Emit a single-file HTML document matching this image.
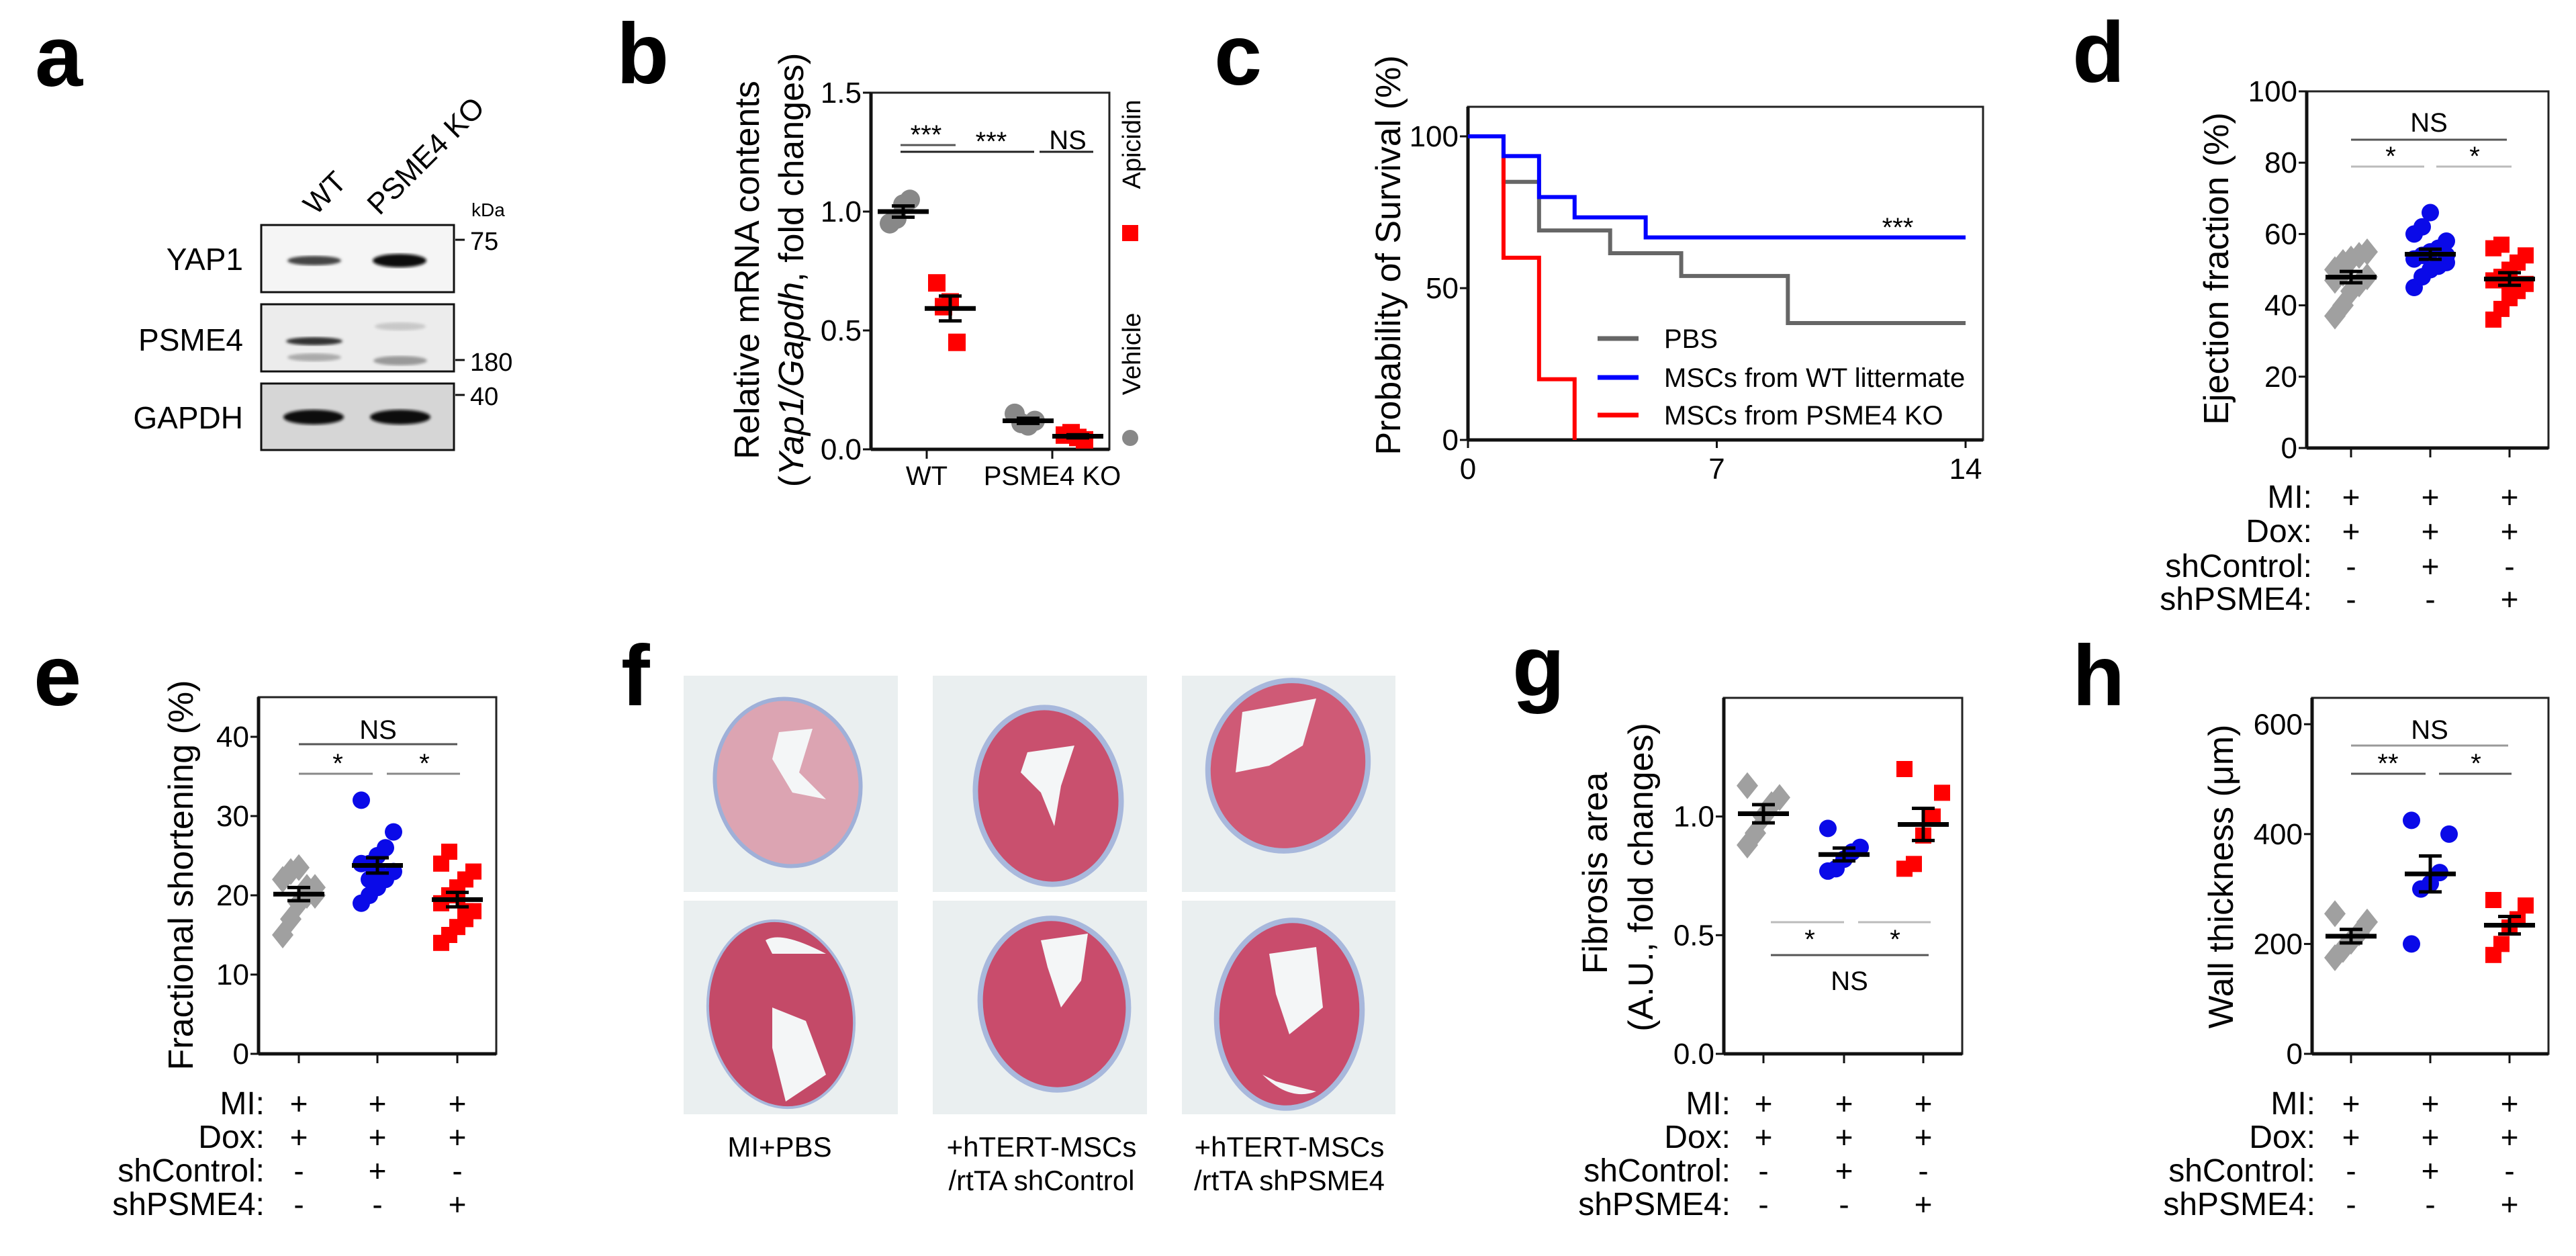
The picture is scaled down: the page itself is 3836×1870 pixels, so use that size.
<!DOCTYPE html>
<html><head><meta charset="utf-8"><style>
html,body{margin:0;padding:0;background:#fff;}
svg{display:block;font-family:"Liberation Sans",Arial,sans-serif;}
.lt{font-weight:bold;font-size:128px;}
.tk{font-size:44px;}
.ax{font-size:52px;}
.tb{font-size:48px;}
</style></head><body>
<svg id="fig" width="3836" height="1870" viewBox="0 0 3836 1870" xmlns="http://www.w3.org/2000/svg">
<defs>
<filter id="blur4"><feGaussianBlur stdDeviation="5"/></filter>
<filter id="blur2"><feGaussianBlur stdDeviation="2"/></filter>
</defs>
<rect width="3836" height="1870" fill="#fff"/>

<text class="lt" x="52" y="128">a</text>
<text class="lt" x="918" y="124">b</text>
<text class="lt" x="1808" y="126">c</text>
<text class="lt" x="3086" y="122">d</text>
<text class="lt" x="50" y="1050">e</text>
<text class="lt" x="925" y="1050">f</text>
<text class="lt" x="2252" y="1036">g</text>
<text class="lt" x="3086" y="1050">h</text>

<g>
<text x="470" y="322" font-size="44" transform="rotate(-45 470 322)">WT</text>
<text x="565" y="322" font-size="44" transform="rotate(-45 565 322)">PSME4 KO</text>
<text x="702" y="322" font-size="28">kDa</text>
<rect x="389" y="335" width="287" height="100" fill="#f5f5f5" stroke="#111" stroke-width="3"/>
<ellipse cx="468" cy="388" rx="40" ry="7" fill="#444" filter="url(#blur2)"/>
<ellipse cx="595" cy="388" rx="40" ry="10" fill="#111" filter="url(#blur2)"/>
<rect x="389" y="453" width="287" height="100" fill="#ececec" stroke="#111" stroke-width="3"/>
<ellipse cx="468" cy="508" rx="42" ry="6" fill="#333" filter="url(#blur2)"/>
<ellipse cx="468" cy="532" rx="40" ry="6" fill="#aaa" filter="url(#blur2)"/>
<ellipse cx="596" cy="486" rx="38" ry="6" fill="#c8c8c8" filter="url(#blur2)"/>
<ellipse cx="596" cy="537" rx="40" ry="7" fill="#999" filter="url(#blur2)"/>
<rect x="389" y="571" width="287" height="99" fill="#d6d6d6" stroke="#111" stroke-width="3"/>
<ellipse cx="467" cy="621" rx="45" ry="11" fill="#111" filter="url(#blur2)"/>
<ellipse cx="596" cy="621" rx="45" ry="11" fill="#111" filter="url(#blur2)"/>
<text x="362" y="402" font-size="46" text-anchor="end">YAP1</text>
<text x="362" y="522" font-size="46" text-anchor="end">PSME4</text>
<text x="362" y="638" font-size="46" text-anchor="end">GAPDH</text>
<line x1="678" y1="357" x2="692" y2="357" stroke="#111" stroke-width="3"/>
<text x="700" y="372" font-size="38">75</text>
<line x1="678" y1="536" x2="692" y2="536" stroke="#111" stroke-width="3"/>
<text x="700" y="552" font-size="38">180</text>
<line x1="678" y1="588" x2="692" y2="588" stroke="#111" stroke-width="3"/>
<text x="700" y="603" font-size="38">40</text>
</g>

<text class="ax" transform="translate(1130 402) rotate(-90)" text-anchor="middle" font-size="56">Relative mRNA contents</text>
<text class="ax" transform="translate(1196 402) rotate(-90)" text-anchor="middle" font-size="50">(<tspan font-style="italic">Yap1/Gapdh</tspan>, fold changes)</text>
<text x="1380" y="722" font-size="40" text-anchor="middle">WT</text>
<text x="1567" y="722" font-size="40" text-anchor="middle">PSME4 KO</text>
<text transform="translate(1698 215) rotate(-90)" font-size="38" text-anchor="middle">Apicidin</text>
<rect x="1671" y="335" width="24" height="24" fill="#f00"/>
<text transform="translate(1698 527) rotate(-90)" font-size="38" text-anchor="middle">Vehicle</text>
<circle cx="1683" cy="652" r="12" fill="#888"/>

<text class="ax" transform="translate(2085 380) rotate(-90)" text-anchor="middle" font-size="50">Probability of Survival (%)</text>
<text x="2826" y="352" font-size="40" text-anchor="middle">***</text>
<line x1="2379" y1="504" x2="2440" y2="504" stroke="#666" stroke-width="7"/>
<text x="2478" y="518" font-size="40">PBS</text>
<line x1="2379" y1="562" x2="2440" y2="562" stroke="#0000ff" stroke-width="7"/>
<text x="2478" y="576" font-size="40">MSCs from WT littermate</text>
<line x1="2379" y1="618" x2="2440" y2="618" stroke="#ff0000" stroke-width="7"/>
<text x="2478" y="632" font-size="40">MSCs from PSME4 KO</text>

<text class="ax" transform="translate(3318 400) rotate(-90)" text-anchor="middle">Ejection fraction (%)</text>
<text class="ax" transform="translate(287 1303) rotate(-90)" text-anchor="middle">Fractional shortening (%)</text>
<text class="ax" transform="translate(2393 1300) rotate(-90)" text-anchor="middle">Fibrosis area</text>
<text class="ax" transform="translate(2461 1306) rotate(-90)" text-anchor="middle">(A.U., fold changes)</text>
<text class="ax" transform="translate(3325 1305) rotate(-90)" text-anchor="middle">Wall thickness (μm)</text>

<g>
<rect x="1018" y="1006" width="319" height="322" fill="#eaeff0"/>
<rect x="1389" y="1006" width="319" height="322" fill="#eaeff0"/>
<rect x="1760" y="1006" width="318" height="322" fill="#eaeff0"/>
<rect x="1018" y="1341" width="319" height="318" fill="#eaeff0"/>
<rect x="1389" y="1341" width="319" height="318" fill="#eaeff0"/>
<rect x="1760" y="1341" width="318" height="318" fill="#eaeff0"/>
<ellipse cx="1173" cy="1165" rx="108" ry="125" transform="rotate(-10 1173 1165)" fill="#dca4b2" stroke="#9fb0d8" stroke-width="6"/>
<path d="M1160 1090 L1210 1085 L1190 1150 L1230 1190 L1180 1180 L1150 1130Z" fill="#f4f6f7"/>
<ellipse cx="1561" cy="1185" rx="108" ry="132" transform="rotate(-8 1561 1185)" fill="#c9506e" stroke="#a8b8dc" stroke-width="8"/>
<path d="M1530 1120 L1600 1110 L1580 1170 L1570 1230 L1550 1180 L1520 1150Z" fill="#f4f6f7"/>
<ellipse cx="1918" cy="1140" rx="118" ry="128" transform="rotate(20 1918 1140)" fill="#cf5a76" stroke="#a8b8dc" stroke-width="8"/>
<path d="M1850 1060 L1960 1040 L1940 1110 L1890 1140 L1840 1150Z" fill="#f4f6f7"/>
<ellipse cx="1163" cy="1510" rx="108" ry="140" transform="rotate(-10 1163 1510)" fill="#c44a68" stroke="#a8b8dc" stroke-width="4"/>
<path d="M1140 1400 Q1163 1385 1230 1420 L1150 1420Z M1150 1500 L1200 1520 L1230 1600 L1170 1640 L1150 1560Z" fill="#f4f6f7"/>
<ellipse cx="1570" cy="1495" rx="110" ry="128" transform="rotate(-8 1570 1495)" fill="#c94c6c" stroke="#a8b8dc" stroke-width="8"/>
<path d="M1550 1400 L1620 1390 L1610 1460 L1580 1500 L1560 1440Z" fill="#f4f6f7"/>
<ellipse cx="1920" cy="1510" rx="108" ry="140" transform="rotate(5 1920 1510)" fill="#c94c6c" stroke="#a8b8dc" stroke-width="8"/>
<path d="M1890 1420 L1960 1410 L1970 1500 L1920 1540 L1900 1480Z M1880 1600 Q1920 1640 1960 1625 L1900 1610Z" fill="#f4f6f7"/>
<text x="1161" y="1722" font-size="42" text-anchor="middle">MI+PBS</text>
<text x="1551" y="1722" font-size="42" text-anchor="middle">+hTERT-MSCs</text>
<text x="1551" y="1772" font-size="42" text-anchor="middle">/rtTA shControl</text>
<text x="1920" y="1722" font-size="42" text-anchor="middle">+hTERT-MSCs</text>
<text x="1920" y="1772" font-size="42" text-anchor="middle">/rtTA shPSME4</text>
</g>

<g id="charts"></g>
</svg>
<script>
const tableRowLabels = ["MI:", "Dox:", "shControl:", "shPSME4:"];
const tableSigns = [["+","+","+"],["+","+","+"],["-","+","-"],["-","-","+"]];

const bTicks = [0, 0.5, 1.0, 1.5];
const bTickLabels = ["0.0", "0.5", "1.0", "1.5"];
const bWtVehicle = [0.95, 0.97, 1.03, 1.05];
const bWtApicidin = [0.70, 0.60, 0.62, 0.45];
const bKoVehicle = [0.15, 0.11, 0.10, 0.12];
const bKoApicidin = [0.06, 0.07, 0.05, 0.04];

const cTicksY = [0, 50, 100];
const cTicksX = [0, 7, 14];
const pbsTimes = [0, 1, 2, 4, 6, 9, 14];
const pbsSurv = [100, 85, 69, 61.5, 54, 38.5, 38.5];
const wtTimes = [0, 1, 2, 3, 5, 14];
const wtSurv = [100, 93.5, 80, 73.3, 66.7, 66.7];
const koTimes = [0, 1, 2, 3];
const koSurv = [100, 60, 20, 0];

const dTicks = [0, 20, 40, 60, 80, 100];
const dGray = [37, 40, 44, 46, 48, 50, 52, 53, 54, 55, 47, 49];
const dBlue = [45, 48, 50, 51, 52, 53, 54, 55, 56, 58, 60, 62, 66, 51, 54];
const dRed = [36, 39, 42, 44, 46, 47, 48, 50, 52, 54, 56, 57, 45];

const eTicks = [0, 10, 20, 30, 40];
const eGray = [15, 17, 19, 20, 21, 22, 23, 23.5, 21, 20];
const eBlue = [19, 20, 21, 22, 23, 24, 24, 25, 26, 28, 32, 22, 23];
const eRed = [14, 15, 16, 17, 18, 19, 20, 21, 22, 23, 24, 25.5, 20, 18];

const gTicks = [0, 0.5, 1.0];
const gTickLabels = ["0.0", "0.5", "1.0"];
const gGray = [0.88, 0.93, 1.0, 1.05, 1.08, 1.13];
const gBlue = [0.77, 0.78, 0.82, 0.85, 0.87, 0.95];
const gRed = [0.78, 0.80, 0.92, 1.0, 1.10, 1.20];

const hTicks = [0, 200, 400, 600];
const hGray = [175, 190, 205, 220, 240, 255];
const hBlue = [200, 300, 310, 330, 400, 425];
const hRed = [180, 200, 230, 245, 270, 280];

const NS = "http://www.w3.org/2000/svg";
const root = document.getElementById("charts");
function mk(tag, attrs, parent) {
  const e = document.createElementNS(NS, tag);
  for (const k in attrs) e.setAttribute(k, attrs[k]);
  (parent || root).appendChild(e);
  return e;
}
function label(e, name) {
  
  
}
function txt(x, y, s, size, anchor, parent) {
  const t = mk("text", {x: x, y: y, "font-size": size, "text-anchor": anchor || "middle"}, parent);
  t.textContent = s;
  return t;
}
function mean(a) { return a.reduce((p, c) => p + c, 0) / a.length; }
function sem(a) {
  const m = mean(a);
  const v = a.reduce((p, c) => p + (c - m) * (c - m), 0) / (a.length - 1);
  return Math.sqrt(v / a.length);
}
function frame(x0, x1, yT, yB, name) {
  const g = mk("g", {});
  label(g, name);
  mk("rect", {x: x0, y: yT, width: x1 - x0, height: yB - yT, fill: "none", stroke: "#222", "stroke-width": 3}, g);
  mk("line", {x1: x0, y1: yT, x2: x0, y2: yB, stroke: "#111", "stroke-width": 5}, g);
  mk("line", {x1: x0, y1: yB, x2: x1, y2: yB, stroke: "#111", "stroke-width": 5}, g);
  return g;
}
function yAxis(x0, ticks, labels, sy, name) {
  const g = mk("g", {});
  label(g, name);
  ticks.forEach((v, i) => {
    mk("line", {x1: x0 - 12, y1: sy(v), x2: x0, y2: sy(v), stroke: "#111", "stroke-width": 3}, g);
    const t = txt(x0 - 14, sy(v) + 15, labels ? labels[i] : String(v), 44, "end", g);
    label(t, name + "-tick");
  });
}
function marker(shape, x, y, color, size, parent) {
  let e;
  if (shape === "circle") e = mk("circle", {cx: x, cy: y, r: size, fill: color}, parent);
  else if (shape === "square") e = mk("rect", {x: x - size, y: y - size, width: size * 2, height: size * 2, fill: color}, parent);
  else e = mk("path", {d: `M${x} ${y - size * 1.25} L${x + size} ${y} L${x} ${y + size * 1.25} L${x - size} ${y}Z`, fill: color}, parent);
  return e;
}
function group(vals, cx, sy, shape, color, size, name, jit) {
  const g = mk("g", {});
  label(g, name);
  vals.forEach((v, i) => {
    const off = ((i % 5) - 2) * (jit || 14);
    const m = marker(shape, cx + off, sy(v), color, size, g);
    label(m, name + "-point");
  });
  const m = mean(vals), s = sem(vals);
  const w = 38;
  mk("line", {x1: cx - w, y1: sy(m), x2: cx + w, y2: sy(m), stroke: "#000", "stroke-width": 7}, g);
  mk("line", {x1: cx, y1: sy(m - s), x2: cx, y2: sy(m + s), stroke: "#000", "stroke-width": 5}, g);
  mk("line", {x1: cx - 17, y1: sy(m - s), x2: cx + 17, y2: sy(m - s), stroke: "#000", "stroke-width": 5}, g);
  mk("line", {x1: cx - 17, y1: sy(m + s), x2: cx + 17, y2: sy(m + s), stroke: "#000", "stroke-width": 5}, g);
}
function table(labelRight, cats, rows, name) {
  const g = mk("g", {});
  label(g, name);
  rows.forEach((y, r) => {
    const t = txt(labelRight, y + 17, tableRowLabels[r], 48, "end", g);
    label(t, name + "-row-label");
    cats.forEach((cx, c) => {
      const s = txt(cx, y + 17, tableSigns[r][c], 46, "middle", g);
      label(s, name + "-sign");
    });
  });
}
function bracket(x1, x2, y, color, name) {
  const l = mk("line", {x1: x1, y1: y, x2: x2, y2: y, stroke: color, "stroke-width": 3});
  label(l, name);
}
function sig(x, y, s, name) {
  const t = txt(x, y, s, 40, "middle");
  label(t, name);
}
function tickX(cats, yB) { cats.forEach(cx => mk("line", {x1: cx, y1: yB, x2: cx, y2: yB + 14, stroke: "#111", "stroke-width": 3})); }

(function () {
  const x0 = 1297, x1 = 1652, yT = 138, yB = 669;
  const sy = v => yB - v / 1.5 * (yB - yT);
  frame(x0, x1, yT, yB, "b-plot-frame");
  yAxis(x0, bTicks, bTickLabels, sy, "b-y-axis");
  tickX([1380, 1567], yB);
  group(bWtVehicle, 1345, sy, "circle", "#888", 15, "b-wt-vehicle", 10);
  group(bWtApicidin, 1415, sy, "square", "#f00", 13, "b-wt-apicidin", 10);
  group(bKoVehicle, 1531, sy, "circle", "#888", 15, "b-ko-vehicle", 10);
  group(bKoApicidin, 1605, sy, "square", "#f00", 13, "b-ko-apicidin", 10);
  bracket(1341, 1423, 216, "#555", "b-bracket-1");
  bracket(1341, 1540, 226, "#222", "b-bracket-2");
  bracket(1548, 1628, 226, "#222", "b-bracket-3");
  sig(1379, 214, "***", "b-sig-1");
  sig(1476, 224, "***", "b-sig-2");
  sig(1590, 222, "NS", "b-sig-3");
})();

(function () {
  const x0 = 2186, x1 = 2953, yT = 159, yB = 655;
  const sx = t => x0 + t / 14 * (2927 - x0);
  const sy = v => yB - v / 100 * (yB - 203);
  frame(x0, x1, yT, yB, "c-plot-frame");
  yAxis(x0, cTicksY, null, sy, "c-y-axis");
  const gx = mk("g", {});
  label(gx, "c-x-axis");
  cTicksX.forEach(t => {
    mk("line", {x1: sx(t), y1: yB, x2: sx(t), y2: yB + 12, stroke: "#111", "stroke-width": 3}, gx);
    const l = txt(sx(t), yB + 58, String(t), 44, "middle", gx);
    label(l, "c-x-tick");
  });
  function step(ts, vs, color, name) {
    let d = `M${sx(ts[0])} ${sy(vs[0])}`;
    for (let i = 1; i < ts.length; i++) {
      d += ` H${sx(ts[i])} V${sy(vs[i])}`;
    }
    const p = mk("path", {d: d, fill: "none", stroke: color, "stroke-width": 6});
    label(p, name);
  }
  step(pbsTimes, pbsSurv, "#666", "survival-pbs");
  step(koTimes, koSurv, "#ff0000", "survival-ko");
  step(wtTimes, wtSurv, "#0000ff", "survival-wt");
})();

(function () {
  const x0 = 3435, x1 = 3795, yT = 136, yB = 667;
  const sy = v => yB - v / 100 * (yB - yT);
  const cats = [3501, 3619, 3737];
  frame(x0, x1, yT, yB, "d-plot-frame");
  yAxis(x0, dTicks, null, sy, "d-y-axis");
  tickX(cats, yB);
  group(dGray, cats[0], sy, "diamond", "#a0a0a0", 16, "d-mi-pbs", 12);
  group(dBlue, cats[1], sy, "circle", "#0a0ae8", 13, "d-shcontrol", 12);
  group(dRed, cats[2], sy, "square", "#ff0000", 12, "d-shpsme4", 12);
  bracket(3501, 3733, 208, "#555", "d-bracket-ns");
  bracket(3501, 3610, 248, "#bbb", "d-bracket-1");
  bracket(3628, 3740, 248, "#bbb", "d-bracket-2");
  sig(3617, 196, "NS", "d-sig-ns");
  sig(3560, 246, "*", "d-sig-1");
  sig(3685, 246, "*", "d-sig-2");
  table(3443, cats, [739, 790, 842, 891], "d-treatment-table");
})();

(function () {
  const x0 = 385, x1 = 739, yT = 1038, yB = 1569;
  const sy = v => yB - v / 45 * (yB - yT);
  const cats = [445, 562, 681];
  frame(x0, x1, yT, yB, "e-plot-frame");
  yAxis(x0, eTicks, null, sy, "e-y-axis");
  tickX(cats, yB);
  group(eGray, cats[0], sy, "diamond", "#a0a0a0", 16, "e-mi-pbs", 12);
  group(eBlue, cats[1], sy, "circle", "#0a0ae8", 13, "e-shcontrol", 12);
  group(eRed, cats[2], sy, "square", "#ff0000", 12, "e-shpsme4", 12);
  bracket(445, 681, 1108, "#555", "e-bracket-ns");
  bracket(445, 555, 1152, "#888", "e-bracket-1");
  bracket(576, 685, 1152, "#888", "e-bracket-2");
  sig(563, 1100, "NS", "e-sig-ns");
  sig(503, 1150, "*", "e-sig-1");
  sig(632, 1150, "*", "e-sig-2");
  table(394, cats, [1642, 1692, 1742, 1792], "e-treatment-table");
})();

(function () {
  const x0 = 2567, x1 = 2922, yT = 1039, yB = 1569;
  const sy = v => yB - v / 1.5 * (yB - yT);
  const cats = [2626, 2746, 2864];
  frame(x0, x1, yT, yB, "g-plot-frame");
  yAxis(x0, gTicks, gTickLabels, sy, "g-y-axis");
  tickX(cats, yB);
  group(gGray, cats[0], sy, "diamond", "#a0a0a0", 16, "g-mi-pbs", 12);
  group(gBlue, cats[1], sy, "circle", "#0a0ae8", 13, "g-shcontrol", 12);
  group(gRed, cats[2], sy, "square", "#ff0000", 12, "g-shpsme4", 14);
  bracket(2637, 2746, 1373, "#bbb", "g-bracket-1");
  bracket(2767, 2875, 1373, "#bbb", "g-bracket-2");
  bracket(2637, 2872, 1422, "#555", "g-bracket-ns");
  sig(2695, 1412, "*", "g-sig-1");
  sig(2822, 1412, "*", "g-sig-2");
  sig(2754, 1474, "NS", "g-sig-ns");
  table(2577, cats, [1642, 1692, 1742, 1792], "g-treatment-table");
})();

(function () {
  const x0 = 3443, x1 = 3795, yT = 1039, yB = 1569;
  const sy = v => yB - v / 648 * (yB - yT);
  const cats = [3501, 3619, 3737];
  frame(x0, x1, yT, yB, "h-plot-frame");
  yAxis(x0, hTicks, null, sy, "h-y-axis");
  tickX(cats, yB);
  group(hGray, cats[0], sy, "diamond", "#a0a0a0", 16, "h-mi-pbs", 12);
  group(hBlue, cats[1], sy, "circle", "#0a0ae8", 13, "h-shcontrol", 14);
  group(hRed, cats[2], sy, "square", "#ff0000", 12, "h-shpsme4", 12);
  bracket(3501, 3735, 1110, "#999", "h-bracket-ns");
  bracket(3501, 3612, 1152, "#555", "h-bracket-1");
  bracket(3632, 3740, 1152, "#555", "h-bracket-2");
  sig(3618, 1100, "NS", "h-sig-ns");
  sig(3556, 1150, "**", "h-sig-1");
  sig(3687, 1150, "*", "h-sig-2");
  table(3448, cats, [1642, 1692, 1742, 1792], "h-treatment-table");
})();
</script>
</body></html>
